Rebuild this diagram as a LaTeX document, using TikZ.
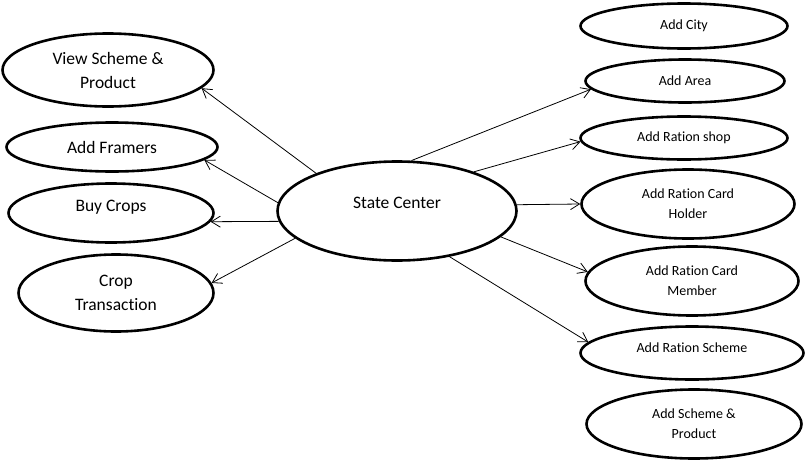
\documentclass[tikz,border=0pt]{standalone}
\usepackage{fontspec}
\setmainfont{Carlito}[Ligatures={NoCommon,NoRare,NoDiscretionary}]
\usetikzlibrary{shapes.geometric,arrows.meta}

\tikzset{
  usecase/.style={draw,ellipse,line width=2.6pt,inner sep=0pt,align=center},
  bigtxt/.style={font=\fontsize{17.5}{24}\selectfont},
  smalltxt/.style={font=\fontsize{14}{20}\selectfont},
  liftup/.style={text depth=#1},
}

\begin{document}
\begin{tikzpicture}[x=1pt,y=-1pt,line width=0.8pt,>={Straight Barb[length=9pt,width=11pt]}]
  \useasboundingbox (0,0) rectangle (807,461);

  % centre
  \node[usecase,bigtxt,liftup=16pt,minimum width=239pt,minimum height=99pt] (state) at (397,211) {State Center};

  % left column
  \node[usecase,bigtxt,minimum width=211pt,minimum height=73pt] (view) at (108,70) {View Scheme \&\\Product};
  \node[usecase,bigtxt,minimum width=211pt,minimum height=49pt] (framers) at (112,147) {Add Framers};
  \node[usecase,bigtxt,liftup=14pt,minimum width=205pt,minimum height=59pt] (buy) at (111,213) {Buy Crops};
  \node[usecase,bigtxt,minimum width=195pt,minimum height=77pt] (crop) at (116,293) {Crop\\Transaction};

  % right column
  \node[usecase,smalltxt,minimum width=207pt,minimum height=45pt] (city) at (684,26) {Add City};
  \node[usecase,smalltxt,minimum width=199pt,minimum height=43pt] (area) at (685,81) {Add Area};
  \node[usecase,smalltxt,minimum width=207pt,minimum height=43pt] (shop) at (684,138) {Add Ration shop};
  \node[usecase,smalltxt,minimum width=213pt,minimum height=69pt] (holder) at (688,204) {Add Ration Card\\Holder};
  \node[usecase,smalltxt,minimum width=213pt,minimum height=69pt] (member) at (692,281) {Add Ration Card\\Member};
  \node[usecase,smalltxt,liftup=10pt,minimum width=223pt,minimum height=53pt] (rscheme) at (692,353) {Add Ration Scheme};
  \node[usecase,smalltxt,minimum width=215pt,minimum height=69pt] (sproduct) at (694,424) {Add Scheme \&\\Product};

  \foreach \a/\n/\b in {
    155/view/349,
    176/framers/352,
    185/buy/355,
    195/crop/6,
    74/area/185,
    27/shop/182,
    3/holder/180,
    346/member/175,
    319/rscheme/174}
  {
    \draw[->] (state.\a) -- (\n.\b);
  }
\end{tikzpicture}
\end{document}
